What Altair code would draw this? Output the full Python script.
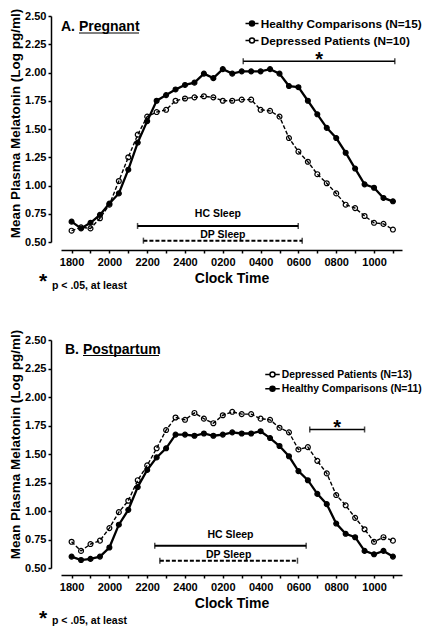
import json
import altair as alt
import pandas as pd

# ---------------- data ----------------
# hours after 18:00, one sample every 30 minutes (1800 ... 1100)
HOURS = [0.0, 0.5, 1.0, 1.5, 2.0, 2.5, 3.0, 3.5, 4.0, 4.5, 5.0, 5.5, 6.0, 6.5,
         7.0, 7.5, 8.0, 8.5, 9.0, 9.5, 10.0, 10.5, 11.0, 11.5, 12.0, 12.5,
         13.0, 13.5, 14.0, 14.5, 15.0, 15.5, 16.0, 16.5, 17.0]
TICK_HOURS = [0, 1, 2, 3, 4, 5, 6, 7, 8, 9, 10, 11, 12, 13, 14, 15, 16, 17]
TICK_LABELS = ["1800", "2000", "2200", "2400", "0200", "0400", "0600", "0800", "1000"]
Y_TICKS = [0.5, 0.75, 1.0, 1.25, 1.5, 1.75, 2.0, 2.25, 2.5]

A_HC_NAME = "Healthy Comparisons (N=15)"
A_DP_NAME = "Depressed Patients (N=10)"
A_HC = [0.68, 0.62, 0.67, 0.74, 0.84, 0.93, 1.14, 1.38, 1.57, 1.75, 1.80, 1.85,
        1.89, 1.91, 1.99, 1.95, 2.03, 1.99, 2.01, 2.01, 2.01, 2.03, 1.99, 1.88,
        1.87, 1.75, 1.63, 1.51, 1.42, 1.29, 1.15, 1.01, 0.98, 0.89, 0.86]
A_DP = [0.60, 0.63, 0.62, 0.71, 0.83, 1.04, 1.25, 1.45, 1.61, 1.65, 1.67, 1.75,
        1.77, 1.78, 1.79, 1.78, 1.75, 1.75, 1.76, 1.76, 1.67, 1.66, 1.61, 1.42,
        1.30, 1.21, 1.10, 1.02, 0.93, 0.83, 0.80, 0.73, 0.67, 0.66, 0.61]

B_HC_NAME = "Healthy Comparisons (N=11)"
B_DP_NAME = "Depressed Patients (N=13)"
B_HC = [0.60, 0.57, 0.58, 0.60, 0.68, 0.88, 1.01, 1.21, 1.36, 1.47, 1.55, 1.67,
        1.67, 1.66, 1.68, 1.66, 1.67, 1.69, 1.68, 1.68, 1.70, 1.64, 1.57, 1.48,
        1.35, 1.27, 1.15, 1.06, 0.89, 0.80, 0.77, 0.65, 0.62, 0.65, 0.60]
B_DP = [0.73, 0.65, 0.71, 0.74, 0.85, 0.99, 1.09, 1.27, 1.40, 1.55, 1.71, 1.82,
        1.80, 1.86, 1.81, 1.77, 1.84, 1.87, 1.85, 1.85, 1.81, 1.80, 1.73, 1.69,
        1.54, 1.56, 1.44, 1.33, 1.14, 1.05, 0.94, 0.84, 0.73, 0.77, 0.74]

# brackets: [start hour, end hour, y level]
A_SIG = [9.08, 17.1, 2.10]
A_HC_SLEEP = [3.49, 11.99, 0.642]
A_DP_SLEEP = [3.80, 12.20, 0.512]
B_SIG = [12.60, 15.50, 1.715]
B_HC_SLEEP = [4.40, 12.41, 0.696]
B_DP_SLEEP = [4.67, 11.95, 0.564]

FONT = "Liberation Sans"
X_DOMAIN = [-0.56, 17.48]
Y_DOMAIN = [0.5, 2.5]
PLOT_W = 341


def legend_path(r, span):
    return (f"M-{span},0L-{r},0M{r},0L{span},0"
            f"M-{r},0A{r},{r},0,1,1,{r},0A{r},{r},0,1,1,-{r},0Z")


label_expr = ("datum.value % 2 == 0 ? " + json.dumps(TICK_LABELS)
              + "[datum.value / 2] : ''")


def X(field, xoff):
    return alt.X(f"{field}:Q",
                 scale=alt.Scale(domain=X_DOMAIN, nice=False, zero=False),
                 title="Clock Time",
                 axis=alt.Axis(values=TICK_HOURS, labelExpr=label_expr,
                               offset=xoff, tickSize=3, tickWidth=1.5,
                               domainWidth=1.5, labelPadding=3, titlePadding=4,
                               labelFontSize=11, titleFontSize=14,
                               labelOverlap=False, labelFlush=False, grid=False))


def Y(field, title_y):
    return alt.Y(f"{field}:Q",
                 scale=alt.Scale(domain=Y_DOMAIN, nice=False, zero=False),
                 title="Mean Plasma Melatonin (Log pg/ml)",
                 axis=alt.Axis(values=Y_TICKS, format=".2f", offset=10,
                               tickSize=3, tickWidth=1.5, domainWidth=1.5,
                               labelPadding=2, titlePadding=2, labelFontSize=11,
                               titleFontSize=13.5, titleY=title_y, grid=False))


def panel(title, ul, hc, dp, hc_name, dp_name, order, sig, hcs, dps,
          height, xoff, title_y, leg, foot_y, hc_dy):
    df = pd.DataFrame({"t": HOURS + HOURS, "v": hc + dp,
                       "s": [hc_name] * len(HOURS) + [dp_name] * len(HOURS)})
    fill = {hc_name: "black", dp_name: "transparent"}

    line_hc = alt.Chart(df).transform_filter(alt.datum.s == hc_name).mark_line(
        color="black", strokeWidth=2.3).encode(x=X("t", xoff), y=Y("v", title_y))
    line_dp = alt.Chart(df).transform_filter(alt.datum.s == dp_name).mark_line(
        color="black", strokeWidth=1.4, strokeDash=[4, 2]).encode(x=X("t", xoff), y=Y("v", title_y))
    pts = alt.Chart(df).mark_point(size=24, stroke="black", strokeWidth=1.2, opacity=1).encode(
        x=X("t", xoff), y=Y("v", title_y),
        fill=alt.Fill("s:N", scale=alt.Scale(domain=order, range=[fill[n] for n in order]),
                      legend=alt.Legend(title=None, orient="none", legendX=leg["x"], legendY=leg["y"],
                                        symbolType=legend_path(leg["r"], leg["span"]),
                                        symbolSize=leg["size"],
                                        symbolStrokeColor="black", symbolStrokeWidth=1.5,
                                        symbolOpacity=1, labelFont=FONT, labelFontSize=leg["fs"],
                                        labelFontWeight="bold", labelColor="black",
                                        labelLimit=300, labelOffset=leg["off"],
                                        rowPadding=leg["pad"])),
    )

    layers = [line_hc, line_dp, pts]

    def bracket(seg, dash_, sw, label, dy, fs):
        d = pd.DataFrame({"x0": [seg[0]], "x1": [seg[1]], "y": [seg[2]],
                          "mid": [(seg[0] + seg[1]) / 2], "lab": [label]})
        out = [
            alt.Chart(d).mark_rule(color="black", strokeWidth=sw, strokeDash=dash_).encode(
                x=X("x0", xoff), x2="x1:Q", y=Y("y", title_y)),
            alt.Chart(d).mark_tick(orient="vertical", color="black", size=6, thickness=1.5).encode(
                x=X("x0", xoff), y=Y("y", title_y)),
            alt.Chart(d).mark_tick(orient="vertical", color="black", size=6, thickness=1.5).encode(
                x=X("x1", xoff), y=Y("y", title_y)),
            alt.Chart(d).mark_text(font=FONT, fontWeight="bold", fontSize=fs, dy=dy,
                                   baseline="middle" if label != "*" else "alphabetic",
                                   color="black").encode(
                x=X("mid", xoff), y=Y("y", title_y), text="lab:N"),
        ]
        return out

    layers += bracket(sig, [1, 0], 1.5, "*", 5, 20)
    layers += bracket(hcs, [1, 0], 2, "HC Sleep", hc_dy, 10.5)
    layers += bracket(dps, [4, 2], 2, "DP Sleep", -6, 10.5)

    # panel title with underline, footnote
    layers.append(alt.Chart(pd.DataFrame({"a": [0]})).mark_text(
        text=title, font=FONT, fontWeight="bold", fontSize=14, align="left",
        baseline="alphabetic", color="black").encode(x=alt.value(ul[3]), y=alt.value(ul[2] - 2)))
    layers.append(alt.Chart(pd.DataFrame({"a": [0]})).mark_rule(color="black", strokeWidth=1).encode(
        x=alt.value(ul[0]), x2=alt.value(ul[1]), y=alt.value(ul[2])))
    layers.append(alt.Chart(pd.DataFrame({"a": [0]})).mark_text(
        text="*", font=FONT, fontWeight="bold", fontSize=21, align="left",
        baseline="alphabetic", color="black").encode(x=alt.value(-22), y=alt.value(foot_y[0])))
    layers.append(alt.Chart(pd.DataFrame({"a": [0]})).mark_text(
        text="p < .05, at least", font=FONT, fontWeight="bold", fontSize=10.5, align="left",
        baseline="alphabetic", color="black").encode(x=alt.value(-9), y=alt.value(foot_y[1])))

    return alt.layer(*layers).properties(width=PLOT_W, height=height)


top = panel("A. Pregnant", [18, 78, 17, 0], A_HC, A_DP, A_HC_NAME, A_DP_NAME,
            [A_HC_NAME, A_DP_NAME], A_SIG, A_HC_SLEEP, A_DP_SLEEP,
            226, 8, 107,
            {"x": 185, "y": 1.5, "size": 93, "r": 0.52, "span": 1.35,
             "fs": 11.8, "off": 2.7, "pad": 4},
            [272, 273], -12)
bottom = panel("B. Postpartum", [22, 98, 15.5, 4], B_HC, B_DP, B_HC_NAME, B_DP_NAME,
               [B_DP_NAME, B_HC_NAME], B_SIG, B_HC_SLEEP, B_DP_SLEEP,
               228, 7, 104,
               {"x": 206, "y": 29, "size": 81, "r": 0.56, "span": 1.61,
                "fs": 10.3, "off": 3.75, "pad": 1.2},
               [285, 284], -11)

chart = alt.vconcat(top, bottom, spacing=98, bounds="flush").resolve_scale(
    x="independent", y="independent", fill="independent"
).resolve_legend(fill="independent").properties(
    padding={"left": 0, "top": 0, "right": 0, "bottom": 0}
).configure(font=FONT, background="white").configure_view(stroke=None).configure_axis(
    labelFont=FONT, titleFont=FONT, labelFontWeight="bold", titleFontWeight="bold",
    labelColor="black", titleColor="black", domainColor="black", tickColor="black")

chart.save("out.html", embed_options={"renderer": "svg", "actions": False})
